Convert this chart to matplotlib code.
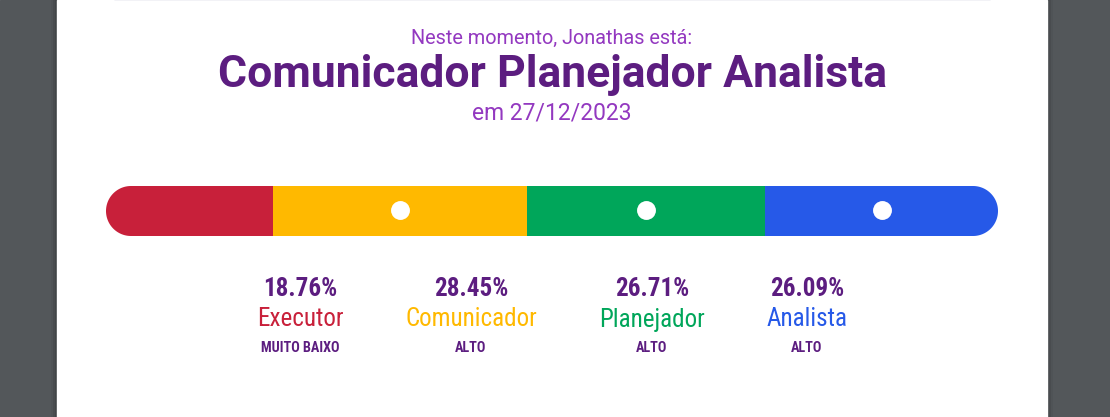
import matplotlib
matplotlib.use("Agg")
import numpy as np
import matplotlib.pyplot as plt
from matplotlib.patches import Rectangle, PathPatch
from matplotlib.path import Path
from matplotlib import font_manager as fm

# ---- data ----
categories = ["Executor", "Comunicador", "Planejador", "Analista"]
percentages = [18.76, 28.45, 26.71, 26.09]
levels = ["MUITO BAIXO", "ALTO", "ALTO", "ALTO"]
subtitle = "Neste momento, Jonathas está:"
title = "Comunicador Planejador Analista"
date_text = "em 27/12/2023"

# ---- style ----
colors = ["#c8203a", "#ffb900", "#00a65a", "#2659e8"]
dark_purple = "#5c1d80"
light_purple = "#9338c0"
names = {f.name for f in fm.fontManager.ttflist}
FONT = "Roboto" if "Roboto" in names else "DejaVu Sans"
COND = "Roboto Condensed" if "Roboto Condensed" in names else FONT

W, H = 1110, 417
fig = plt.figure(figsize=(W / 100, H / 100), dpi=100)
ax = fig.add_axes([0, 0, 1, 1])
ax.set_xlim(0, W)
ax.set_ylim(H, 0)
ax.axis("off")

# page background and card
ax.add_patch(Rectangle((0, 0), W, H, color="#53575a", zorder=0))
for i, a in enumerate([0.10, 0.07, 0.04]):
    ax.add_patch(Rectangle((57 - 2 - 2 * i, 0), 990 + 4 + 4 * i, H, color="black", alpha=a, lw=0, zorder=0.5))
ax.add_patch(Rectangle((57, 0), 990, H, color="white", zorder=1))
ax.plot([115, 990], [0.3, 0.3], color="#f0f0f5", lw=1.2, zorder=2, solid_capstyle="round")

# header texts
cx = 552
ax.text(cx, 38.5, subtitle, ha="center", va="center", fontsize=14.3,
        color=light_purple, family=FONT, zorder=3)
ax.text(cx, 74.5, title, ha="center", va="center", fontsize=32,
        color=dark_purple, family=FONT, weight="bold", zorder=3)
ax.text(cx, 112.5, date_text, ha="center", va="center", fontsize=16.5,
        color=light_purple, family=FONT, zorder=3)

# stacked bar
bx0, bx1, by0, by1 = 106, 998, 186, 236
r = (by1 - by0) / 2
bax = fig.add_axes([bx0 / W, 1 - by1 / H, (bx1 - bx0) / W, (by1 - by0) / H])
bax.axis("off")
total = sum(percentages)
bax.set_xlim(0, total)
bax.set_ylim(-0.5, 0.5)
lefts = [sum(percentages[:i]) for i in range(len(percentages))]

# stadium-shaped clip path (pixel coordinates of main axes)
t1 = np.linspace(-np.pi / 2, np.pi / 2, 60)
right = np.column_stack([bx1 - r + r * np.cos(t1), (by0 + by1) / 2 + r * np.sin(t1)])
t2 = np.linspace(np.pi / 2, 3 * np.pi / 2, 60)
left = np.column_stack([bx0 + r + r * np.cos(t2), (by0 + by1) / 2 + r * np.sin(t2)])
verts = np.vstack([right, left, right[:1]])
codes = [Path.MOVETO] + [Path.LINETO] * (len(verts) - 2) + [Path.CLOSEPOLY]
clip = PathPatch(Path(verts, codes), transform=ax.transData, facecolor="none", edgecolor="none")
ax.add_patch(clip)

bars = bax.barh(0, percentages, left=lefts, height=1.0, color=colors, linewidth=0)
for b in bars:
    b.set_clip_path(clip)
for l, p, lev in zip(lefts, percentages, levels):
    if lev != "MUITO BAIXO":
        bax.scatter(l + p / 2, 0.02, s=185, color="white", zorder=5, linewidths=0)

# labels below
label_x = [300, 471, 652, 807]
for x, cat, p, lev, c in zip(label_x, categories, percentages, levels, colors):
    ax.text(x, 289, f"{p:.2f}%", ha="center", va="center", fontsize=18.1,
            color=dark_purple, family=COND, weight="bold", fontstretch="condensed", zorder=3)
    ax.text(x, 319.5, cat, ha="center", va="center", fontsize=18.1,
            color=c, family=COND, fontstretch="condensed", zorder=3)
    ax.text(x, 348.5, lev, ha="center", va="center", fontsize=10.2,
            color=dark_purple, family=COND, weight="bold", fontstretch="condensed", zorder=3)

fig.savefig("out.png", dpi=100)
